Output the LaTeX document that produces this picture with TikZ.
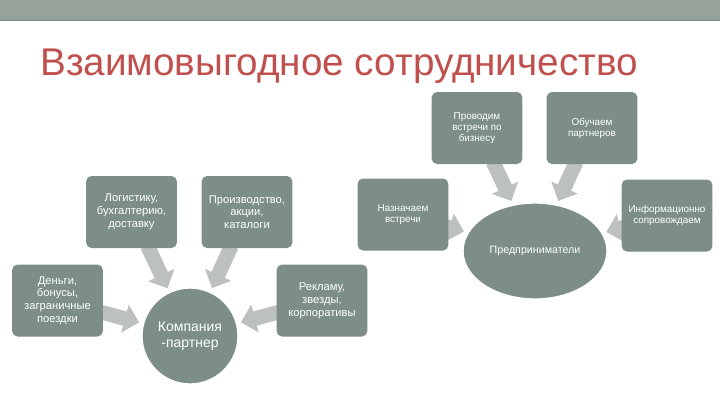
\documentclass[tikz,border=0pt]{standalone}
\usepackage{fontspec}
\setmainfont{Liberation Sans}
\usetikzlibrary{arrows.meta,backgrounds,shapes.geometric}

\definecolor{bargreen}{RGB}{149,163,154}
\definecolor{boxgreen}{RGB}{124,142,133}
\definecolor{titlered}{RGB}{192,80,77}
\definecolor{arrowgray}{RGB}{188,192,190}

\tikzset{
  box/.style={fill=boxgreen, rounded corners=4pt, minimum width=68pt, minimum height=54pt,
    text=white, align=center, inner sep=1pt, font=\fontsize{8.4}{9.6}\selectfont},
  smallbox/.style={box, font=\fontsize{7.4}{8.4}\selectfont},
  hub/.style={fill=boxgreen, draw=white, line width=1pt, text=white, align=center, inner sep=0pt},
  blockarr/.style={draw=arrowgray, line width=11pt, -{Triangle[length=11pt,width=21pt]},
    shorten >=3pt, shorten <=-2pt}
}

\begin{document}
\begin{tikzpicture}[x=0.75pt, y=-0.75pt]
\useasboundingbox (0,0) rectangle (720,405);

% top bar and title
\fill[bargreen] (0,0) rectangle (720,20);
\draw[bargreen!85!black, line width=0.75pt] (0,20.5) -- (720,20.5);
\node[anchor=base west, inner sep=0pt, text=titlered, font=\fontsize{29}{34}\selectfont] (title) at (40,75) {Взаимовыгодное сотрудничество};

% company side
\node[box] (logi) at (131.5,212) {Логистику,\\ бухгалтерию,\\ доставку};
\node[box] (proizv) at (247,212) {Производство,\\ акции,\\ каталоги};
\node[box] (dengi) at (57.5,300.5) {Деньги,\\ бонусы,\\ заграничные\\ поездки};
\node[box] (reklama) at (322,300.5) {Рекламу,\\ звезды,\\ корпоративы};
\node[hub, circle, minimum size=72pt, font=\fontsize{10.5}{12.5}\selectfont] (komp) at (190,336) {Компания\\ -партнер};

% entrepreneur side
\node[smallbox] (provod) at (477,128) {Проводим\\ встречи по\\ бизнесу};
\node[smallbox] (obuch) at (592,128) {Обучаем\\ партнеров};
\node[smallbox] (naznach) at (403,214.5) {Назначаем\\ встречи};
\node[smallbox] (inform) at (667,215.5) {Информационно\\ сопровождаем};
\node[hub, ellipse, minimum width=108pt, minimum height=72pt, font=\fontsize{8}{9}\selectfont] (predpr) at (535,251) {Предприниматели};

\begin{scope}[on background layer]
\draw[blockarr] (logi) -- (komp);
\draw[blockarr] (proizv) -- (komp);
\draw[blockarr] (dengi) -- (komp);
\draw[blockarr] (reklama) -- (komp);
\draw[blockarr] (provod) -- (predpr);
\draw[blockarr] (obuch) -- (predpr);
\draw[blockarr] (naznach) -- (predpr);
\draw[blockarr] (inform) -- (predpr);
\end{scope}

\end{tikzpicture}
\end{document}
